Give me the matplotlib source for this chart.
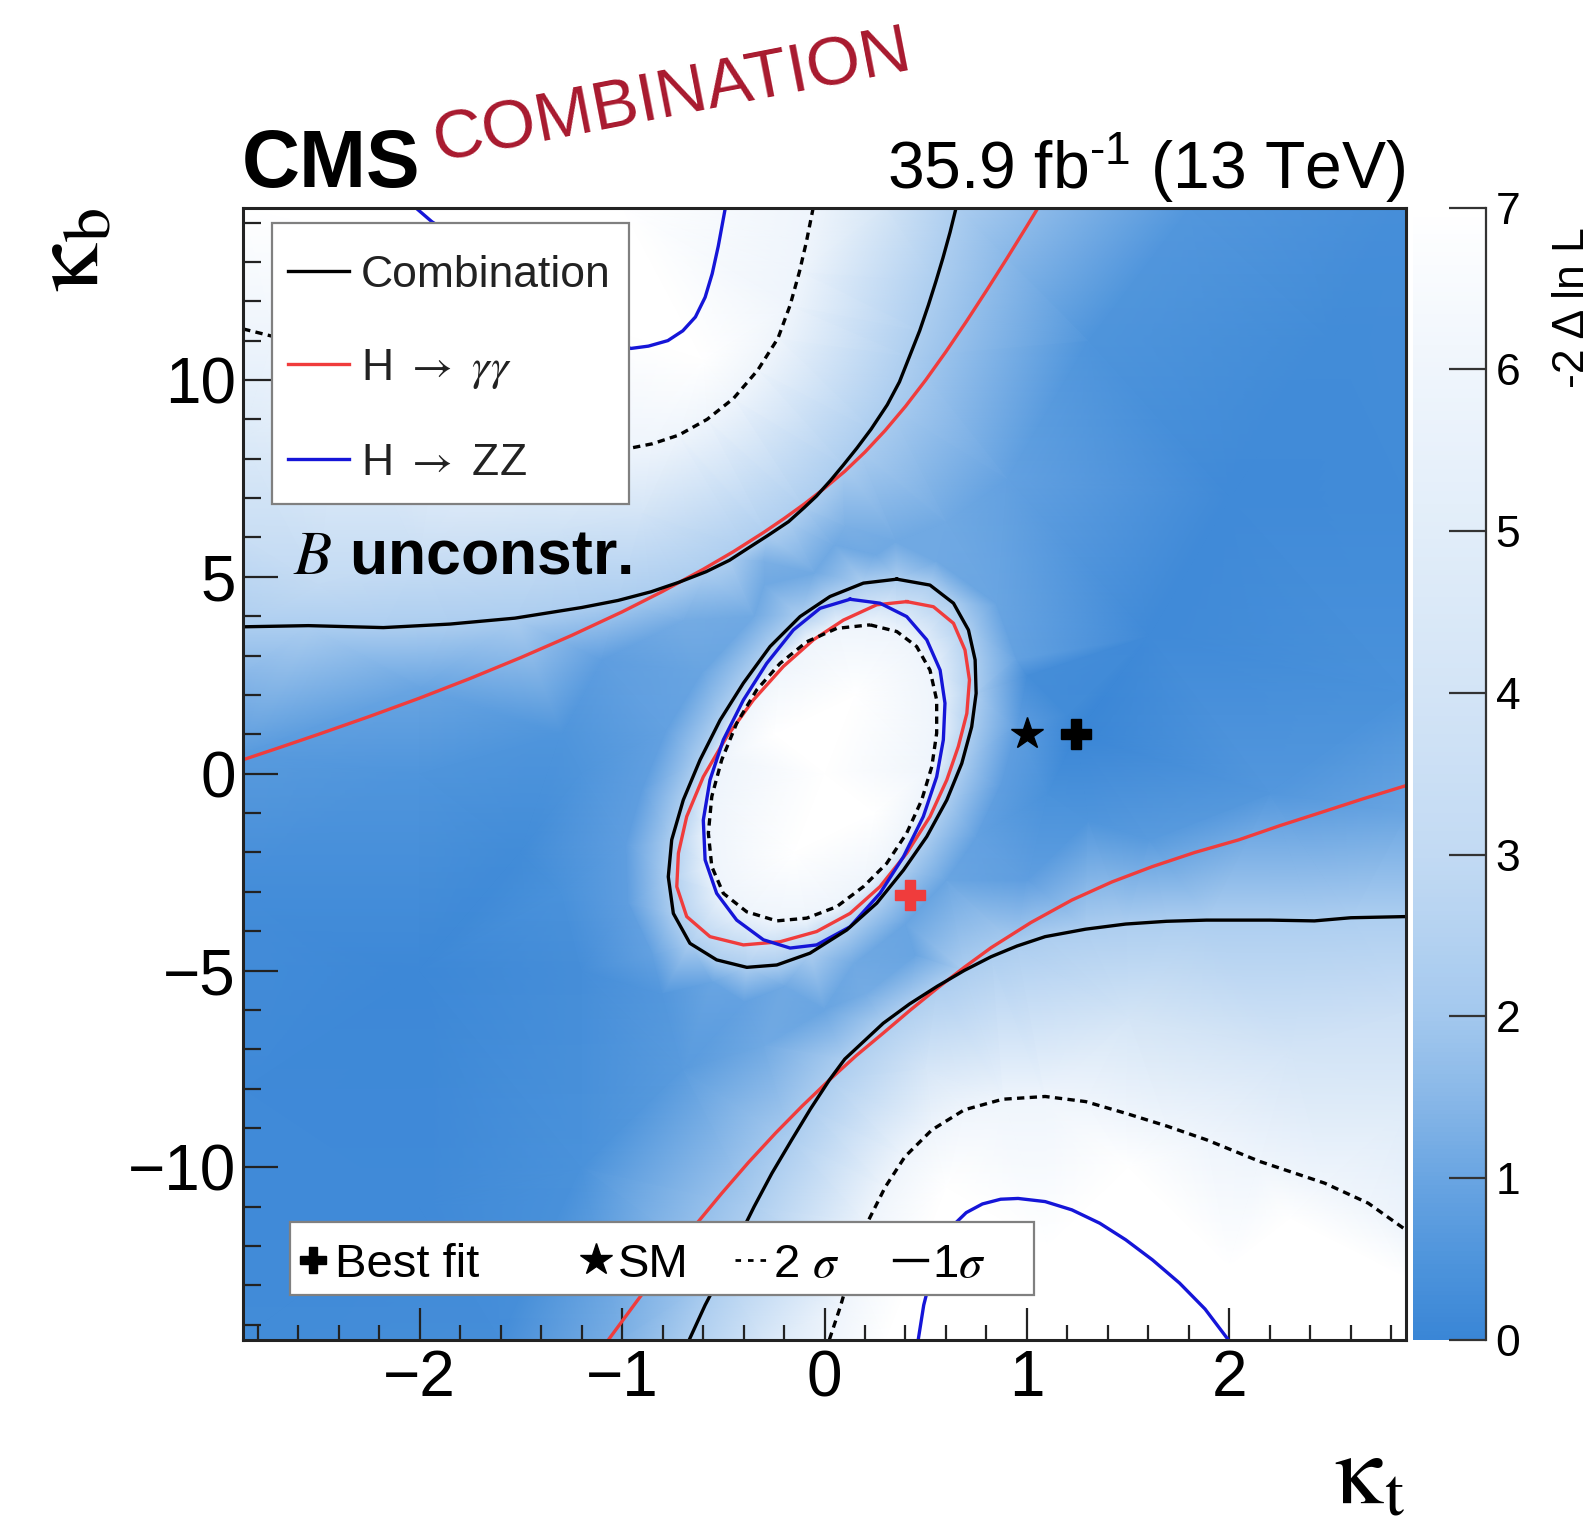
import numpy as np
import matplotlib
matplotlib.use('Agg')
import matplotlib.pyplot as plt
import matplotlib.tri as mtri
from matplotlib.colors import LinearSegmentedColormap
from matplotlib.patches import Rectangle
from matplotlib.ticker import MultipleLocator

plt.rcParams['font.family'] = ['Liberation Sans', 'DejaVu Sans']
plt.rcParams['mathtext.fontset'] = 'custom'
plt.rcParams['mathtext.rm'] = 'Liberation Sans'
plt.rcParams['mathtext.it'] = 'Liberation Sans:italic'
plt.rcParams['mathtext.bf'] = 'Liberation Sans:bold'

kt_range = (-2.875, 2.875)
kb_range = (-14.375, 14.375)
x_ticks = [-2, -1, 0, 1, 2]
y_ticks = [-10, -5, 0, 5, 10]
z_ticks = [0, 1, 2, 3, 4, 5, 6, 7]

level_1sigma = 2.30
level_2sigma = 5.99

# ---- contours (kt, kb) ----
# combination, 1 sigma
comb_1s_upper = [(-2.875, 3.73), (-2.55, 3.76), (-2.18, 3.71), (-1.85, 3.80), (-1.53, 3.95),
                 (-1.2, 4.22), (-1.02, 4.40), (-0.857, 4.62), (-0.72, 4.86), (-0.585, 5.13),
                 (-0.47, 5.42), (-0.38, 5.72), (-0.28, 6.05), (-0.178, 6.40), (-0.1, 6.76),
                 (-0.04, 7.05), (0.03, 7.45), (0.093, 7.84), (0.16, 8.27), (0.23, 8.75),
                 (0.31, 9.37), (0.37, 9.95), (0.42, 10.6), (0.47, 11.25), (0.513, 11.9),
                 (0.55, 12.5), (0.585, 13.1), (0.62, 13.75), (0.65, 14.375)]
comb_1s_lower = [(-0.668, -14.375), (-0.59, -13.5), (-0.508, -12.69), (-0.43, -11.85),
                 (-0.348, -11.0), (-0.26, -10.15), (-0.162, -9.30), (-0.07, -8.52),
                 (0.024, -7.78), (0.1, -7.25), (0.29, -6.34), (0.42, -5.85), (0.557, -5.40),
                 (0.69, -5.0), (0.823, -4.65), (0.95, -4.38), (1.09, -4.14), (1.29, -3.95),
                 (1.488, -3.82), (1.69, -3.75), (1.887, -3.72), (2.2, -3.72), (2.42, -3.74),
                 (2.6, -3.66), (2.875, -3.63)]
comb_1s_ring = [(0.357, 4.94), (0.521, 4.79), (0.637, 4.33), (0.711, 3.65), (0.744, 2.89),
                (0.749, 2.04), (0.727, 1.19), (0.678, 0.26), (0.604, -0.67), (0.505, -1.60),
                (0.39, -2.45), (0.258, -3.29), (0.11, -3.97), (-0.072, -4.56), (-0.236, -4.86),
                (-0.384, -4.92), (-0.533, -4.73), (-0.665, -4.31), (-0.747, -3.55), (-0.772, -2.62),
                (-0.755, -1.68), (-0.698, -0.67), (-0.615, 0.35), (-0.516, 1.36), (-0.401, 2.30),
                (-0.269, 3.23), (-0.121, 3.99), (0.027, 4.50), (0.192, 4.84)]
# combination, 2 sigma
comb_2s_upper = [(-0.056, 14.375), (-0.09, 13.5), (-0.124, 12.75), (-0.17, 11.9), (-0.23, 11.06),
                 (-0.33, 10.25), (-0.45, 9.53), (-0.58, 9.0), (-0.72, 8.60), (-0.85, 8.38),
                 (-0.958, 8.27), (-1.4, 8.3), (-1.9, 8.8), (-2.4, 9.8), (-2.72, 11.1),
                 (-2.875, 11.3)]
comb_2s_lower = [(0.024, -14.375), (0.078, -13.54), (0.14, -12.45), (0.21, -11.42), (0.3, -10.5),
                 (0.397, -9.73), (0.53, -9.05), (0.69, -8.54), (0.88, -8.27), (1.09, -8.20),
                 (1.29, -8.33), (1.49, -8.63), (1.69, -8.95), (1.887, -9.30), (2.15, -9.85),
                 (2.47, -10.40), (2.686, -10.91), (2.875, -11.6)]
comb_2s_ring = [(0.225, 3.78), (0.357, 3.61), (0.455, 3.23), (0.521, 2.63), (0.554, 1.87),
                (0.554, 1.03), (0.53, 0.18), (0.48, -0.67), (0.406, -1.51), (0.307, -2.28),
                (0.192, -2.87), (0.06, -3.38), (-0.088, -3.67), (-0.236, -3.74), (-0.384, -3.51),
                (-0.5, -3.04), (-0.557, -2.36), (-0.574, -1.51), (-0.557, -0.58), (-0.508, 0.35),
                (-0.434, 1.28), (-0.335, 2.13), (-0.22, 2.80), (-0.088, 3.35), (0.06, 3.69)]
# H -> gamma gamma, 1 sigma
gg_upper = [(-2.875, 0.35), (-2.7, 0.65), (-2.5, 1.0), (-2.25, 1.45), (-2.0, 1.92),
            (-1.75, 2.42), (-1.5, 2.95), (-1.25, 3.51), (-1.0, 4.11), (-0.8, 4.63),
            (-0.6, 5.19), (-0.45, 5.64), (-0.3, 6.13), (-0.2, 6.48), (-0.1, 6.85),
            (0.0, 7.25), (0.1, 7.68), (0.2, 8.17), (0.3, 8.72), (0.4, 9.33), (0.5, 10.0),
            (0.6, 10.72), (0.7, 11.48), (0.8, 12.27), (0.9, 13.08), (1.0, 13.91),
            (1.055, 14.375)]
gg_lower = [(-1.067, -14.375), (-0.92, -13.35), (-0.774, -12.35), (-0.64, -11.48),
            (-0.508, -10.66), (-0.375, -9.87), (-0.242, -9.13), (-0.11, -8.44), (0.024, -7.78),
            (0.157, -7.16), (0.29, -6.59), (0.425, -6.0), (0.557, -5.45), (0.69, -4.92),
            (0.823, -4.42), (1.02, -3.78), (1.222, -3.21), (1.42, -2.75), (1.62, -2.36),
            (1.83, -2.0), (2.047, -1.68), (2.25, -1.32), (2.45, -0.99), (2.66, -0.64),
            (2.875, -0.3)]
gg_ring = [(0.406, 4.37), (0.538, 4.24), (0.637, 3.82), (0.694, 3.14), (0.716, 2.38),
           (0.703, 1.53), (0.661, 0.69), (0.604, -0.16), (0.521, -1.09), (0.406, -2.02),
           (0.274, -2.87), (0.126, -3.55), (-0.039, -4.01), (-0.22, -4.27), (-0.401, -4.35),
           (-0.566, -4.14), (-0.681, -3.63), (-0.730, -2.87), (-0.722, -2.02), (-0.681, -1.09),
           (-0.599, -0.08), (-0.483, 0.94), (-0.352, 1.87), (-0.204, 2.72), (-0.055, 3.40),
           (0.093, 3.90), (0.258, 4.29)]
# H -> ZZ, 1 sigma
zz_upper = [(-2.02, 14.375), (-1.94, 14.02), (-1.6, 12.9), (-1.25, 11.6), (-0.958, 10.8),
            (-0.87, 10.86), (-0.774, 11.0), (-0.7, 11.25), (-0.638, 11.6), (-0.59, 12.1),
            (-0.555, 12.7), (-0.525, 13.4), (-0.49, 14.375)]
zz_lower = [(0.463, -14.375), (0.49, -13.5), (0.53, -12.69), (0.57, -12.05), (0.63, -11.5),
            (0.7, -11.15), (0.78, -10.93), (0.87, -10.81), (0.956, -10.79), (1.09, -10.87),
            (1.222, -11.08), (1.36, -11.42), (1.488, -11.84), (1.62, -12.35), (1.754, -12.94),
            (1.88, -13.6), (1.994, -14.375)]
zz_ring = [(0.126, 4.43), (0.274, 4.33), (0.406, 3.99), (0.505, 3.40), (0.571, 2.63),
           (0.595, 1.79), (0.587, 0.86), (0.554, -0.08), (0.488, -1.09), (0.39, -2.11),
           (0.274, -3.04), (0.126, -3.89), (-0.039, -4.35), (-0.17, -4.43), (-0.302, -4.22),
           (-0.434, -3.72), (-0.533, -3.04), (-0.59, -2.19), (-0.599, -1.18), (-0.566, -0.16),
           (-0.5, 0.86), (-0.401, 1.87), (-0.286, 2.80), (-0.154, 3.65), (-0.022, 4.20)]

# scan values away from the contour lines: (kt, kb, -2 dlnL)
scan_points = [
    # inside the ring
    (0.0, 0.0, 14.0), (0.15, 2.0, 12.0), (-0.15, -2.0, 12.0), (0.25, -1.0, 11.0), (-0.25, 1.0, 11.0),
    # just outside the ring
    (0.55, 5.4, 1.1), (0.85, 4.3, 1.0), (0.95, 2.9, 0.9), (0.95, 1.2, 0.8), (0.87, -0.3, 0.8),
    (0.75, -1.6, 0.9), (0.6, -2.7, 1.0), (0.4, -3.8, 1.0), (0.15, -4.8, 1.1), (-0.2, -5.4, 1.1),
    (-0.55, -5.3, 1.0), (-0.85, -4.6, 0.9), (-0.97, -3.3, 0.8), (-0.98, -1.8, 0.8),
    (-0.9, -0.4, 0.8), (-0.78, 1.1, 0.9), (-0.6, 2.6, 1.0), (-0.35, 4.0, 1.1), (-0.05, 5.1, 1.1),
    (0.25, 5.55, 1.1), (0.05, 5.8, 1.1), (-0.3, 4.8, 1.1), (0.35, 5.9, 1.1),
    (-0.4, -5.8, 0.9), (0.0, -6.0, 1.0), (-0.8, -5.6, 0.6), (0.45, -4.6, 1.0),
    # right band
    (1.24, 1.0, 0.0), (1.0, 2.5, 0.3), (1.1, -0.5, 0.4), (1.6, 3.5, 0.15), (2.0, 7.0, 0.15),
    (2.5, 11.0, 0.2), (2.875, 14.375, 0.3), (1.8, 14.375, 0.6), (1.3, 11.0, 0.5), (0.9, 7.5, 0.9),
    (0.6, 6.4, 1.1), (2.875, 7.0, 0.2), (2.875, 2.0, 0.4), (2.875, -1.0, 1.0), (2.2, -0.5, 0.6),
    (1.6, -1.7, 0.7), (1.0, -2.7, 0.8), (1.2, 1.5, 0.2), (1.3, -1.2, 0.5),
    # lower-left band
    (-2.875, -14.375, 0.2), (-1.6, -14.375, 0.3), (-1.0, -14.375, 1.3), (-2.0, -11.0, 0.15),
    (-1.2, -10.0, 0.4), (-0.7, -7.5, 0.7), (-0.3, -6.9, 1.1), (0.2, -5.6, 1.2),
    (-2.0, -5.0, 0.1), (-1.5, -2.0, 0.2), (-1.2, -5.0, 0.3), (-1.3, -3.0, 0.4),
    (-2.875, -8.0, 0.15), (-2.875, -3.0, 0.25), (-2.875, 0.5, 0.7), (-2.875, 2.5, 1.5),
    (-2.0, 2.2, 1.0), (-2.0, 0.0, 0.5), (-1.3, 1.0, 0.5), (-1.1, 2.9, 0.8), (-0.7, 3.9, 1.2),
    (-0.3, 5.4, 1.3), (0.1, 6.3, 1.3), (-1.2, 0.0, 0.5),
    # beyond the upper branch
    (-1.5, 12.0, 9.0), (-2.2, 13.5, 9.0), (-2.875, 14.375, 8.0), (-1.0, 14.375, 9.0),
    (-0.6, 10.5, 7.5), (-2.875, 6.0, 3.4), (-2.875, 8.5, 4.6), (-2.0, 5.5, 3.4),
    (-1.3, 6.2, 3.8), (-0.9, 6.6, 4.0), (-2.5, 4.8, 3.0), (0.3, 14.375, 4.1),
    # beyond the lower branch
    (1.1, -12.0, 9.0), (2.0, -12.5, 9.0), (2.875, -14.375, 9.0), (1.2, -14.375, 9.0),
    (0.3, -14.375, 7.0), (2.875, -12.8, 7.5), (0.6, -10.5, 7.5), (1.5, -10.0, 7.5),
    (2.3, -11.3, 7.0), (1.5, -6.2, 4.1), (2.3, -7.0, 4.0), (0.5, -7.5, 4.2),
    (-0.3, -14.375, 4.2), (2.875, -6.0, 3.5), (2.875, -8.5, 4.8),
]

best_fit = (1.24, 1.0)
best_fit_gg = (0.42, -3.08)
sm_point = (1.0, 1.0)

# ---- style ----
cmap = LinearSegmentedColormap.from_list('dnll', [
    (0.0, '#3a86d6'), (0.5 / 7, '#4f95dc'), (1.0 / 7, '#6aa5e2'), (1.5 / 7, '#89b8e8'),
    (2.0 / 7, '#a3c8ee'), (2.5 / 7, '#b4d2f1'), (3.0 / 7, '#c2daf3'), (4.0 / 7, '#d3e4f6'),
    (5.0 / 7, '#e1edf9'), (6.0 / 7, '#eff5fc'), (1.0, '#ffffff')])
c_comb = 'black'
c_gg = '#f03c3c'
c_zz = '#1515d8'
lw = 2.4
dash = (0, (2.2, 1.6))

fig = plt.figure(figsize=(15.93, 15.32), dpi=100)
ax = fig.add_axes([0.1523, 0.1256, 0.7306, 0.7388])
cax = fig.add_axes([0.8870, 0.1256, 0.0458, 0.7388])

# likelihood surface from contour levels plus scan values
px, py, pz = [], [], []
for curve, level in [(comb_1s_upper, level_1sigma), (comb_1s_lower, level_1sigma),
                     (comb_1s_ring, level_1sigma), (comb_2s_upper, level_2sigma),
                     (comb_2s_lower, level_2sigma), (comb_2s_ring, level_2sigma)]:
    for x, y in curve:
        px.append(x); py.append(y); pz.append(level)
for x, y, z in scan_points:
    px.append(x); py.append(y); pz.append(z)
px = np.array(px); py = np.array(py); pz = np.array(pz)
tri_iso = mtri.Triangulation(px, py / 5.0)
tri = mtri.Triangulation(px, py, triangles=tri_iso.triangles)
mesh = ax.tripcolor(tri, pz, shading='gouraud', cmap=cmap, vmin=0, vmax=7,
                    rasterized=True, zorder=0)


def draw_curve(curve, closed=False, **kw):
    xs = [p[0] for p in curve]
    ys = [p[1] for p in curve]
    if closed:
        xs.append(xs[0]); ys.append(ys[0])
    ax.plot(xs, ys, solid_joinstyle='round', dash_joinstyle='round', zorder=3, **kw)


for c in [gg_upper, gg_lower]:
    draw_curve(c, color=c_gg, lw=lw)
draw_curve(gg_ring, closed=True, color=c_gg, lw=lw)
for c in [zz_upper, zz_lower]:
    draw_curve(c, color=c_zz, lw=lw)
draw_curve(zz_ring, closed=True, color=c_zz, lw=lw)
for c in [comb_1s_upper, comb_1s_lower]:
    draw_curve(c, color=c_comb, lw=lw)
draw_curve(comb_1s_ring, closed=True, color=c_comb, lw=lw)
for c in [comb_2s_upper, comb_2s_lower]:
    draw_curve(c, color=c_comb, lw=lw, ls=dash)
draw_curve(comb_2s_ring, closed=True, color=c_comb, lw=lw, ls=dash)

ax.plot(*sm_point, marker='*', ms=24, color='black', ls='none', zorder=4)
ax.plot(*best_fit, marker='P', ms=21, color='black', ls='none', zorder=4)
ax.plot(*best_fit_gg, marker='P', ms=21, color=c_gg, mec=c_gg, ls='none', zorder=4)

ax.set_xlim(kt_range)
ax.set_ylim(kb_range)
ax.set_xticks(x_ticks)
ax.set_yticks(y_ticks)
ax.xaxis.set_minor_locator(MultipleLocator(0.2))
ax.yaxis.set_minor_locator(MultipleLocator(1))
ax.tick_params(axis='both', which='both', direction='in', top=False, right=False,
               color='#222222', labelsize=46)
ax.tick_params(axis='x', which='major', length=23, width=1.6, pad=7)
ax.tick_params(axis='x', which='minor', length=11, width=1.6)
ax.tick_params(axis='y', which='major', length=25, width=1.6, pad=5)
ax.tick_params(axis='y', which='minor', length=13, width=1.6)
for s in ax.spines.values():
    s.set_linewidth(2.2)
    s.set_color('#222222')
    s.set_zorder(10)

# legend: analyses
ax.add_patch(Rectangle((0.0255, 0.7382), 0.3065, 0.2479, transform=ax.transAxes,
                       fc='white', ec='#808080', lw=1.6, zorder=7))
for row, col, label in [(0.9441, c_comb, 'Combination'),
                        (0.8619, c_gg, r'H $\rightarrow$ $\gamma\gamma$'),
                        (0.7780, c_zz, r'H $\rightarrow$ ZZ')]:
    ax.plot([0.0386, 0.091], [row, row], transform=ax.transAxes, color=col, lw=lw, zorder=8)
    ax.text(0.1015, row - 0.0141, label, transform=ax.transAxes, va='baseline', ha='left',
            fontsize=32, color='#222222', zorder=8, math_fontfamily='stix')

# legend: markers and contour styles
ax.add_patch(Rectangle((0.0407, 0.0394), 0.639, 0.0645, transform=ax.transAxes,
                       fc='white', ec='#808080', lw=1.6, zorder=7))
row = 0.0703
base = row - 0.0148
ax.plot(0.0605, row, marker='P', ms=19, color='black', transform=ax.transAxes, zorder=8)
ax.text(0.0792, base, 'Best fit', transform=ax.transAxes, fontsize=34, va='baseline', zorder=8)
ax.plot(0.3036, row, marker='*', ms=24, color='black', transform=ax.transAxes, zorder=8)
ax.text(0.3227, base, 'SM', transform=ax.transAxes, fontsize=34, va='baseline', zorder=8)
ax.plot([0.4231, 0.4510], [row, row], transform=ax.transAxes, color='black', lw=2.0,
        ls=(0, (2.0, 2.5)), zorder=8)
ax.text(0.4553, base, r'2 $\sigma$', transform=ax.transAxes, fontsize=34, va='baseline',
        zorder=8, math_fontfamily='stix')
ax.plot([0.5597, 0.5880], [row, row], transform=ax.transAxes, color='black', lw=2.4, zorder=8)
ax.text(0.5924, base, r'1$\sigma$', transform=ax.transAxes, fontsize=34, va='baseline',
        zorder=8, math_fontfamily='stix')

ax.text(0.0436, 0.677, r'$B$ unconstr.', transform=ax.transAxes, fontsize=45,
        fontweight='bold', va='baseline', ha='left', zorder=6, math_fontfamily='stix')

# colour scale
cb = fig.colorbar(mesh, cax=cax, ticks=z_ticks)
cb.outline.set_visible(False)
cax.yaxis.set_ticks_position('right')
cax.tick_params(axis='y', which='major', direction='in', length=27, width=1.6,
                color='#333333', labelsize=32, pad=7)
cax.plot([1, 1], [0, 1], transform=cax.transAxes, color='#333333', lw=1.6, clip_on=False)
fig.text(1552 / 1593, 1 - 227 / 1532, '-2 \u0394 ln L', rotation=90, ha='left', va='top',
         fontsize=32)

# axis titles
fig.text(1405 / 1593, 1 - 1504 / 1532, r'$\mathrm{\kappa}_{\mathrm{t}}$', ha='right',
         va='baseline', fontsize=70, math_fontfamily='stix')
fig.text(73.5 / 1593, 1 - 208 / 1532, r'$\mathrm{\kappa}_{\mathrm{b}}$', rotation=90,
         ha='center', va='top', fontsize=70, math_fontfamily='stix')

# header
fig.text(242 / 1593, 1 - 187 / 1532, 'CMS', fontsize=58, fontweight='bold',
         ha='left', va='baseline')
fig.text(1405 / 1593, 1 - 189 / 1532, '35.9 fb$^{\\mathregular{\u2010}1}$ (13 TeV)',
         fontsize=47.5, ha='right', va='baseline')
fig.text(437 / 1593, 1 - 162 / 1532, 'COMBINATION', rotation=11, rotation_mode='anchor',
         ha='left', va='baseline', fontsize=50, color='#a8192e')

fig.savefig('out.png', dpi=100)
